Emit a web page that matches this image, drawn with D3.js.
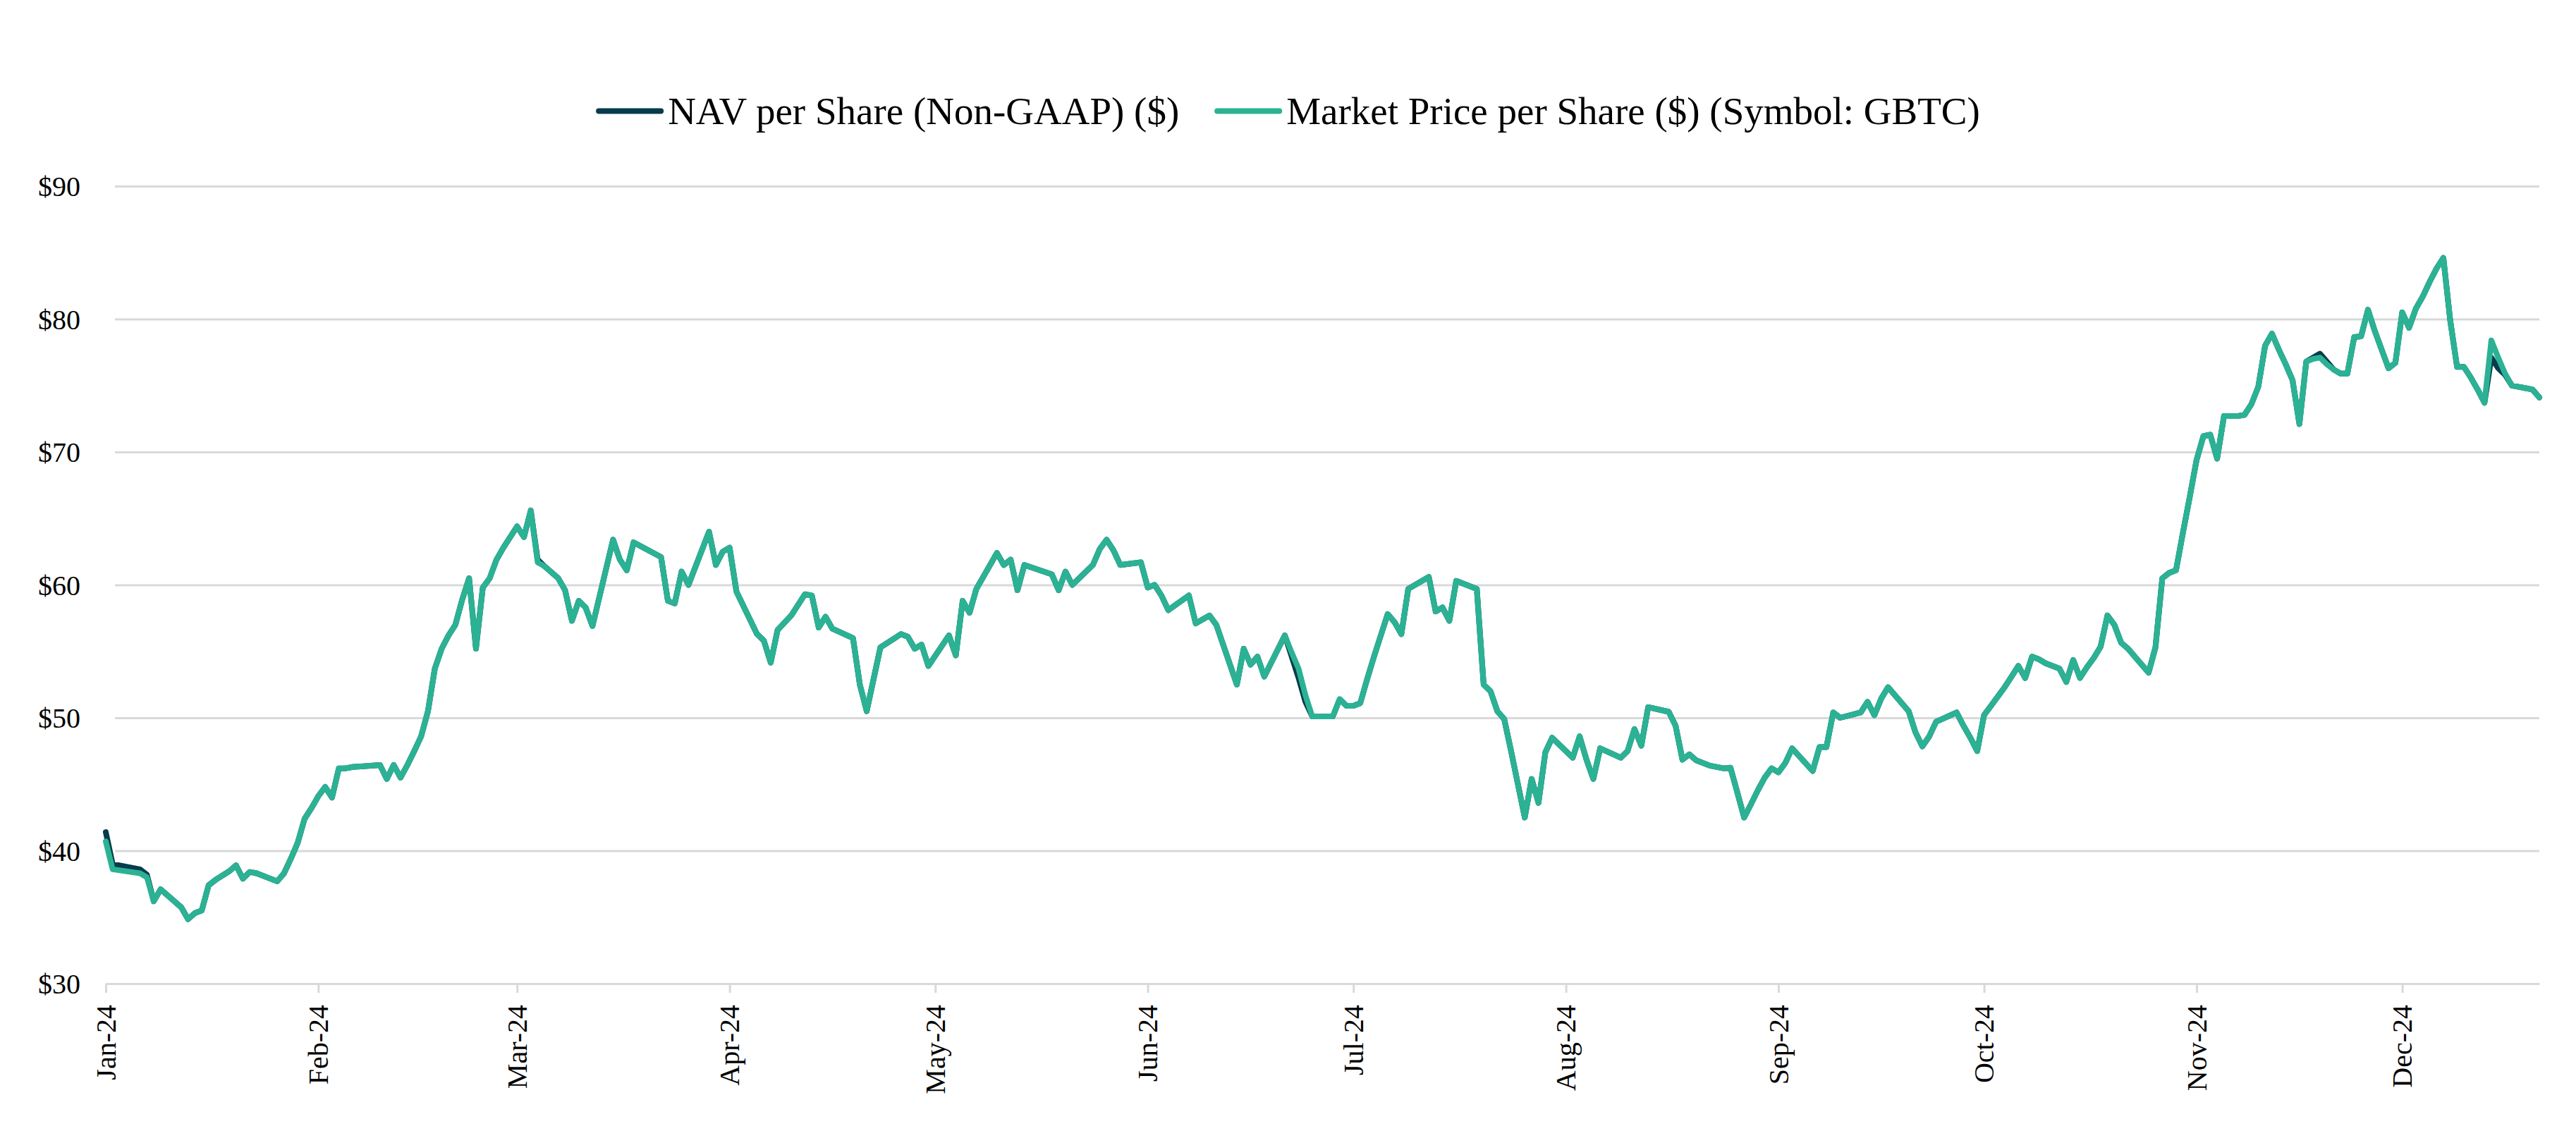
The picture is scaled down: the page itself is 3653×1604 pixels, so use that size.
<!DOCTYPE html>
<html>
<head>
<meta charset="utf-8">
<script src="https://cdn.jsdelivr.net/npm/d3@7/dist/d3.min.js"></script>
<style>
  html, body { margin: 0; padding: 0; background: #ffffff; }
  svg { display: block; }
  text { font-family: "Liberation Serif", "Times New Roman", serif; fill: #000; }
</style>
</head>
<body>
<svg id="chart" width="3653" height="1604"></svg>
<script>
// ---------------- DATA ----------------
const seriesNames = ["NAV per Share (Non-GAAP) ($)", "Market Price per Share ($) (Symbol: GBTC)"];

const dates = [
"2024-01-02","2024-01-03","2024-01-07","2024-01-08","2024-01-09","2024-01-10","2024-01-13","2024-01-14","2024-01-15","2024-01-16",
"2024-01-17","2024-01-18","2024-01-20","2024-01-21","2024-01-22","2024-01-23","2024-01-24","2024-01-27","2024-01-28","2024-01-29",
"2024-01-30","2024-01-31","2024-02-01","2024-02-02","2024-02-03","2024-02-04","2024-02-05","2024-02-06","2024-02-07","2024-02-11",
"2024-02-12","2024-02-13","2024-02-14","2024-02-15","2024-02-16","2024-02-17","2024-02-18","2024-02-19","2024-02-20","2024-02-21",
"2024-02-22","2024-02-23","2024-02-24","2024-02-25","2024-02-26","2024-02-27","2024-02-28","2024-02-29","2024-03-02","2024-03-03",
"2024-03-04","2024-03-05","2024-03-06","2024-03-08","2024-03-09","2024-03-10","2024-03-11","2024-03-12","2024-03-13","2024-03-16",
"2024-03-17","2024-03-18","2024-03-19","2024-03-23","2024-03-24","2024-03-25","2024-03-26","2024-03-27","2024-03-30","2024-03-31",
"2024-04-01","2024-04-02","2024-04-03","2024-04-06","2024-04-07","2024-04-08","2024-04-09","2024-04-11","2024-04-13","2024-04-14",
"2024-04-15","2024-04-16","2024-04-17","2024-04-20","2024-04-21","2024-04-22","2024-04-23","2024-04-24","2024-04-27","2024-04-28",
"2024-04-29","2024-04-30","2024-05-01","2024-05-04","2024-05-05","2024-05-06","2024-05-07","2024-05-08","2024-05-11","2024-05-12",
"2024-05-13","2024-05-14","2024-05-15","2024-05-19","2024-05-20","2024-05-21","2024-05-22","2024-05-25","2024-05-26","2024-05-27",
"2024-05-28","2024-05-29","2024-06-01","2024-06-02","2024-06-03","2024-06-04","2024-06-05","2024-06-08","2024-06-09","2024-06-10",
"2024-06-11","2024-06-12","2024-06-15","2024-06-16","2024-06-17","2024-06-18","2024-06-19","2024-06-22","2024-06-23","2024-06-24",
"2024-06-25","2024-06-26","2024-06-29","2024-06-30","2024-07-01","2024-07-02","2024-07-03","2024-07-04","2024-07-05","2024-07-06",
"2024-07-07","2024-07-08","2024-07-09","2024-07-10","2024-07-13","2024-07-14","2024-07-15","2024-07-16","2024-07-17","2024-07-20",
"2024-07-21","2024-07-22","2024-07-23","2024-07-24","2024-07-25","2024-07-26","2024-07-27","2024-07-28","2024-07-29","2024-07-30",
"2024-07-31","2024-08-03","2024-08-04","2024-08-05","2024-08-06","2024-08-07","2024-08-10","2024-08-11","2024-08-12","2024-08-13",
"2024-08-14","2024-08-17","2024-08-18","2024-08-19","2024-08-20","2024-08-21","2024-08-23","2024-08-25","2024-08-26","2024-08-27",
"2024-08-28","2024-08-29","2024-08-30","2024-08-31","2024-09-01","2024-09-02","2024-09-03","2024-09-04","2024-09-07","2024-09-08",
"2024-09-09","2024-09-10","2024-09-11","2024-09-14","2024-09-15","2024-09-16","2024-09-17","2024-09-18","2024-09-21","2024-09-22",
"2024-09-23","2024-09-24","2024-09-25","2024-09-28","2024-09-29","2024-09-30","2024-10-01","2024-10-02","2024-10-03","2024-10-04",
"2024-10-05","2024-10-06","2024-10-07","2024-10-08","2024-10-09","2024-10-10","2024-10-11","2024-10-12","2024-10-13","2024-10-14",
"2024-10-15","2024-10-16","2024-10-17","2024-10-18","2024-10-19","2024-10-20","2024-10-21","2024-10-22","2024-10-23","2024-10-24",
"2024-10-25","2024-10-26","2024-10-27","2024-10-28","2024-10-29","2024-10-30","2024-10-31","2024-11-01","2024-11-02","2024-11-03",
"2024-11-04","2024-11-05","2024-11-06","2024-11-07","2024-11-08","2024-11-09","2024-11-10","2024-11-11","2024-11-12","2024-11-13",
"2024-11-14","2024-11-15","2024-11-16","2024-11-17","2024-11-18","2024-11-19","2024-11-20","2024-11-21","2024-11-22","2024-11-23",
"2024-11-24","2024-11-25","2024-11-26","2024-11-27","2024-11-28","2024-11-29","2024-11-30","2024-12-01","2024-12-02","2024-12-03",
"2024-12-04","2024-12-05","2024-12-06","2024-12-07","2024-12-08","2024-12-09","2024-12-10","2024-12-11","2024-12-12","2024-12-13",
"2024-12-14","2024-12-15","2024-12-16","2024-12-17","2024-12-18","2024-12-19","2024-12-20","2024-12-21","2024-12-22"
];

const priceValues = [
40.7,38.6,38.3,38.0,36.2,37.1,35.75,34.85,35.3,35.5,
37.4,37.8,38.45,38.9,37.9,38.4,38.3,37.7,38.3,39.4,
40.6,42.4,43.2,44.1,44.8,44.0,46.2,46.2,46.3,46.45,
45.4,46.45,45.5,46.45,47.5,48.6,50.5,53.7,55.2,56.2,
57.0,58.9,60.5,55.2,59.8,60.5,61.9,62.8,64.4,63.6,
65.6,61.7,61.4,60.5,59.6,57.3,58.8,58.3,56.9,63.4,
61.9,61.1,63.2,62.1,58.8,58.6,61.0,60.0,64.0,61.5,
62.5,62.8,59.5,56.3,55.8,54.15,56.6,57.7,59.3,59.2,
56.8,57.6,56.7,56.0,52.5,50.5,52.9,55.3,56.3,56.1,
55.2,55.5,53.9,56.2,54.7,58.8,57.9,59.7,62.4,61.5,
61.9,59.6,61.5,60.8,59.6,61.0,60.0,61.5,62.7,63.4,
62.6,61.5,61.7,59.8,60.0,59.2,58.1,59.2,57.1,57.4,
57.7,57.0,52.5,55.2,54.0,54.6,53.1,56.2,54.9,53.7,
51.7,50.1,50.1,51.4,50.9,50.9,51.1,52.9,54.6,56.2,
57.8,57.2,56.3,59.7,60.6,58.0,58.3,57.3,60.3,59.7,
52.5,52.0,50.5,49.9,47.5,45.0,42.5,45.4,43.6,47.4,
48.5,47.0,48.6,46.85,45.4,47.7,47.0,47.5,49.15,47.9,
50.8,50.45,49.4,46.85,47.25,46.8,46.4,46.2,46.25,44.4,
42.5,43.5,44.55,45.5,46.2,45.9,46.6,47.7,46.0,47.8,
47.8,50.4,50.0,50.4,51.2,50.2,51.45,52.3,50.5,48.9,
47.85,48.6,49.7,50.4,49.4,48.5,47.5,50.2,50.9,51.6,
52.3,53.1,53.9,53.0,54.6,54.4,54.1,53.9,53.7,52.7,
54.35,53.0,53.8,54.5,55.35,57.7,57.0,55.65,55.2,54.6,
54.0,53.4,55.3,60.5,60.9,61.1,63.9,66.6,69.4,71.2,
71.3,69.5,72.7,72.7,72.7,72.8,73.6,74.9,78.0,78.9,
77.7,76.6,75.4,72.1,76.8,77.0,77.1,76.6,76.2,75.9,
75.9,78.65,78.7,80.7,79.1,77.7,76.3,76.7,80.5,79.35,
80.8,81.7,82.8,83.8,84.6,79.9,76.4,76.4,75.6,74.7,
73.7,78.4,77.1,75.9,75.0,74.9,74.8,74.7,74.1
];

const navValues = [
41.4,39.0,38.6,38.2,36.2,37.1,35.75,34.85,35.3,35.5,
37.4,37.8,38.45,38.9,37.9,38.4,38.3,37.7,38.3,39.4,
40.6,42.4,43.2,44.1,44.8,44.0,46.2,46.2,46.3,46.45,
45.4,46.45,45.5,46.45,47.5,48.6,50.5,53.7,55.2,56.2,
57.0,58.9,60.5,55.2,59.8,60.5,61.9,62.8,64.4,63.6,
65.6,61.9,61.4,60.5,59.6,57.3,58.8,58.3,56.9,63.4,
61.9,61.1,63.2,62.1,58.8,58.6,61.0,60.0,64.0,61.5,
62.5,62.8,59.5,56.3,55.8,54.15,56.6,57.7,59.3,59.2,
56.8,57.6,56.7,56.0,52.5,50.5,52.9,55.3,56.3,56.1,
55.2,55.5,53.9,56.2,54.7,58.8,57.9,59.7,62.4,61.5,
61.9,59.6,61.5,60.8,59.6,61.0,60.0,61.5,62.7,63.4,
62.6,61.5,61.7,59.8,60.0,59.2,58.1,59.2,57.1,57.4,
57.7,57.0,52.5,55.2,54.0,54.6,53.1,56.2,54.6,53.0,
51.2,50.1,50.1,51.4,50.9,50.9,51.1,52.9,54.6,56.2,
57.8,57.2,56.3,59.7,60.6,58.0,58.3,57.3,60.3,59.7,
52.5,52.0,50.5,49.9,47.5,45.0,42.5,45.4,43.6,47.4,
48.5,47.0,48.6,46.85,45.4,47.7,47.0,47.5,49.15,47.9,
50.8,50.45,49.4,46.85,47.25,46.8,46.4,46.2,46.25,44.4,
42.5,43.5,44.55,45.5,46.2,45.9,46.6,47.7,46.0,47.8,
47.8,50.4,50.0,50.4,51.2,50.2,51.45,52.3,50.5,48.9,
47.85,48.6,49.7,50.4,49.4,48.5,47.5,50.2,50.9,51.6,
52.3,53.1,53.9,53.0,54.6,54.4,54.1,53.9,53.7,52.7,
54.35,53.0,53.8,54.5,55.35,57.7,57.0,55.65,55.2,54.6,
54.0,53.4,55.3,60.5,60.9,61.1,63.9,66.6,69.4,71.2,
71.3,69.5,72.7,72.7,72.7,72.8,73.6,74.9,78.0,78.9,
77.7,76.6,75.4,72.1,76.8,77.1,77.4,76.8,76.2,75.9,
75.9,78.65,78.7,80.7,79.1,77.7,76.3,76.7,80.5,79.35,
80.8,81.7,82.8,83.8,84.6,79.9,76.4,76.4,75.6,74.7,
73.7,77.1,76.3,75.8,75.0,74.9,74.8,74.7,74.1
];

const yTickValues = [30, 40, 50, 60, 70, 80, 90];
const xTickDates = ["2024-01-02","2024-02-02","2024-03-02","2024-04-02","2024-05-02","2024-06-02",
                    "2024-07-02","2024-08-02","2024-09-02","2024-10-02","2024-11-02","2024-12-02"];
const xTickLabels = ["Jan-24","Feb-24","Mar-24","Apr-24","May-24","Jun-24",
                     "Jul-24","Aug-24","Sep-24","Oct-24","Nov-24","Dec-24"];
const xDomain = ["2024-01-02", "2024-12-22"];

// ---------------- STYLE / LAYOUT ----------------
const colors = { nav: "#063c4c", price: "#2bb294", grid: "#d9d9d9" };
const plot = { left: 150, right: 3601, top: 264, bottom: 1395, gridLeft: 163 };

const parse = d3.timeParse("%Y-%m-%d");
const svg = d3.select("#chart");

const x = d3.scaleTime()
  .domain(xDomain.map(parse))
  .range([plot.left, plot.right]);
const y = d3.scaleLinear()
  .domain([30, 90])
  .range([plot.bottom, plot.top]);

// Y axis with gridlines
const yAxis = d3.axisLeft(y)
  .tickValues(yTickValues)
  .tickSize(plot.right - plot.gridLeft)
  .tickPadding(plot.gridLeft - 114)
  .tickFormat(d => "$" + d);
const gy = svg.append("g")
  .attr("transform", `translate(${plot.right},0)`)
  .call(yAxis);
gy.select(".domain").remove();
gy.selectAll(".tick line").attr("stroke", colors.grid).attr("stroke-width", 3);
gy.selectAll(".tick").filter(d => d === 30).select("line").remove();
gy.selectAll(".tick text")
  .attr("font-size", 40)
  .attr("font-family", "'Liberation Serif', 'Times New Roman', serif")
  .attr("fill", "#000")
  .attr("dy", "0.34em");

// X axis
const tickDates = xTickDates.map(parse);
const xAxis = d3.axisBottom(x)
  .tickValues(tickDates)
  .tickSizeInner(13)
  .tickSizeOuter(0)
  .tickFormat((d, i) => xTickLabels[i]);
const gx = svg.append("g")
  .attr("transform", `translate(0,${plot.bottom})`)
  .call(xAxis);
gx.select(".domain").attr("stroke", colors.grid).attr("stroke-width", 3);
gx.selectAll(".tick line").attr("stroke", colors.grid).attr("stroke-width", 3);
gx.selectAll(".tick text")
  .attr("font-size", 40)
  .attr("font-family", "'Liberation Serif', 'Times New Roman', serif")
  .attr("fill", "#000")
  .attr("text-anchor", "end")
  .attr("transform", "translate(0,30) rotate(-90)")
  .attr("x", 0)
  .attr("y", 0)
  .attr("dy", "0.33em");

// Lines
const navData = dates.map((d, i) => ({ date: parse(d), value: navValues[i] }));
const priceData = dates.map((d, i) => ({ date: parse(d), value: priceValues[i] }));
const line = d3.line().x(d => x(d.date)).y(d => y(d.value));

svg.append("path")
  .datum(navData)
  .attr("d", line)
  .attr("fill", "none")
  .attr("stroke", colors.nav)
  .attr("stroke-width", 8)
  .attr("stroke-linejoin", "round")
  .attr("stroke-linecap", "round");
svg.append("path")
  .datum(priceData)
  .attr("d", line)
  .attr("fill", "none")
  .attr("stroke", colors.price)
  .attr("stroke-width", 8)
  .attr("stroke-linejoin", "round")
  .attr("stroke-linecap", "round");

// Legend
const legend = svg.append("g");
const legendY = 157.5;
const swatchLen = 96, swatchGap = 6, itemGap = 50;
const legendColors = [colors.nav, colors.price];
const items = seriesNames.map((name, i) => {
  const g = legend.append("g");
  g.append("line")
    .attr("x1", 4).attr("x2", swatchLen - 4)
    .attr("y1", 0).attr("y2", 0)
    .attr("stroke", legendColors[i])
    .attr("stroke-width", 8)
    .attr("stroke-linecap", "round");
  const t = g.append("text")
    .attr("x", swatchLen + swatchGap)
    .attr("y", 0)
    .attr("dy", "0.34em")
    .attr("font-size", 55)
    .text(name);
  return { g, w: swatchLen + swatchGap + t.node().getComputedTextLength() };
});
const total = items.reduce((s, it) => s + it.w, 0) + itemGap * (items.length - 1);
let cx = 3653 / 2 - total / 2;
items.forEach(it => {
  it.g.attr("transform", `translate(${cx},${legendY})`);
  cx += it.w + itemGap;
});
</script>
</body>
</html>
